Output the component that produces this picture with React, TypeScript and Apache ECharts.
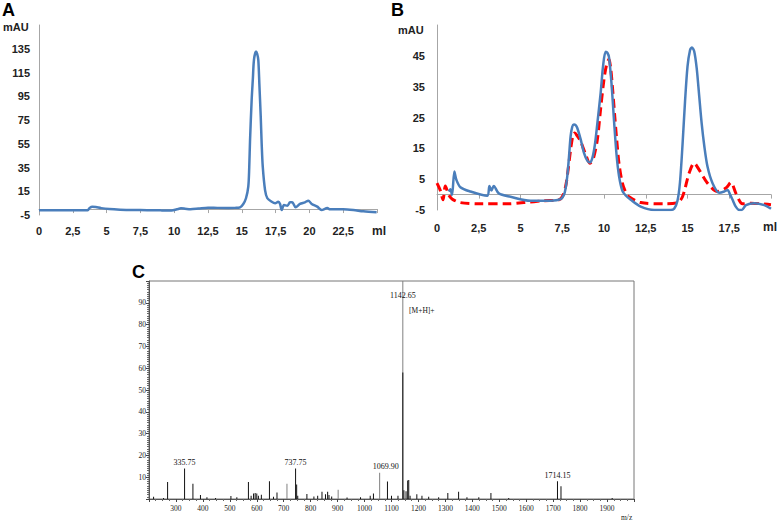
import React, { useEffect, useRef } from "react";
import * as echarts from "echarts";

// Panel A: chromatogram (ml vs mAU)
const aMl = [0, 1, 2, 3, 3.6, 3.75, 3.95, 4.2, 4.6, 5.2, 6, 7, 8, 9, 9.8, 10.2, 10.5, 10.8, 11.2, 11.8, 12.5, 13.2, 14, 14.5, 14.87, 15.11, 15.31, 15.48, 15.55, 15.61, 15.73, 15.82, 15.9, 16.05, 16.13, 16.22, 16.3, 16.4, 16.47, 16.55, 16.72, 16.89, 17.21, 17.46, 17.7, 17.83, 17.95, 18.12, 18.37, 18.57, 18.73, 18.98, 19.3, 19.67, 19.92, 20.17, 20.58, 20.9, 21.33, 21.52, 22.5, 23.25, 23.99, 24.97];
const aMAU = [-1, -1, -1, -1.1, -1, 1, 2, 1.8, 0.8, 0, -0.5, -0.8, -0.9, -1.1, -1.2, -0.2, 0.6, 0.3, -0.2, 0.4, 1.2, 1.0, 0.9, 1.0, 1.5, 4.3, 9.1, 18.9, 35, 58.2, 92, 110, 125.7, 132.7, 131, 125.7, 105, 77.9, 55, 35.7, 16, 9.1, 6.2, 4.9, 6.2, 4.3, -0.8, 3.4, 2.8, 5.7, 5.7, 1.5, 4.3, 5.7, 7.1, 4.3, 2.0, -0.8, 0.9, -0.2, -0.2, -0.8, -1.9, -2.7];

// Panel B: blue solid trace
const bBlueMl = [0.7, 0.8, 0.9, 1.04, 1.16, 1.4, 2.0, 3.0, 3.14, 3.26, 3.4, 3.7, 4.4, 5.6, 6.8, 7.4, 7.6, 7.7, 7.8, 7.9, 8.0, 8.1, 8.2, 8.3, 8.4, 8.6, 8.8, 9.0, 9.15, 9.3, 9.45, 9.6, 9.8, 9.95, 10.1, 10.2, 10.3, 10.45, 10.6, 10.75, 10.9, 11.1, 11.3, 11.6, 12.2, 13.0, 14.0, 14.2, 14.4, 14.55, 14.7, 14.85, 15.0, 15.15, 15.26, 15.4, 15.55, 15.7, 15.85, 16.0, 16.2, 16.5, 16.9, 17.2, 17.4, 17.55, 17.7, 17.9, 18.1, 18.25, 18.5, 19.0, 19.6, 20.0];
const bBlueMAU = [1.0, 1.7, -0.1, 7.5, 4.8, 2.4, 1.0, -0.4, 2.8, 1.3, 2.8, 0.4, -0.7, -2.0, -2.0, -1.5, -0.1, 2, 5.9, 12, 18.9, 22, 22.7, 22.5, 21.6, 18, 13.5, 11, 10.4, 11.8, 16, 23, 33, 42, 46.3, 46, 44.5, 36, 24, 13, 6, 1.2, -0.3, -1.7, -3.9, -5, -5, -4.6, -2, 4, 16, 30, 41.5, 46.8, 47.7, 46.5, 41, 32, 23, 16, 9, 3.7, 0.6, 1.0, 1.5, 0, -1.7, -4, -5, -5, -3.4, -2.8, -3.4, -4.6];

// Panel B: red dashed trace
const bRedMl = [0, 0.2, 0.36, 0.5, 0.7, 0.9, 1.4, 2.6, 4.2, 5.2, 6.4, 7.3, 7.5, 7.7, 7.85, 8.0, 8.15, 8.25, 8.4, 8.6, 8.9, 9.15, 9.35, 9.6, 9.8, 10.0, 10.15, 10.3, 10.4, 10.5, 10.65, 10.76, 10.9, 11.1, 11.3, 11.5, 12.2, 13.6, 14.4, 14.7, 15.1, 15.4, 15.7, 16.2, 16.8, 17.3, 17.6, 17.9, 18.3, 18.8, 20.0];
const bRedMAU = [3.7, 1.3, -1.7, 2.8, -0.1, -1.4, -2.6, -3.0, -3.0, -2.6, -2.0, -1.7, -0.7, 2.6, 8, 14.6, 19.5, 20, 19, 17.3, 13, 10.2, 11.5, 17.8, 28, 37.4, 42, 43.9, 41, 35.2, 25, 17.8, 10, 3.7, 0.8, -0.7, -2.6, -3.0, -2.6, -0.7, 7.0, 10.2, 8.0, 3.7, 1.0, 2.1, 3.9, 0.4, -3.0, -2.8, -3.3];

// Panel C: mass spectrum sticks
const cMz = [217, 254, 269, 332, 363, 391, 415, 447, 504, 526, 569, 579, 588, 594, 600, 606, 617, 647, 662, 675, 712, 744, 748, 752, 786, 812, 826, 842, 855, 863, 868, 878, 902, 935, 985, 1021, 1033, 1056, 1085, 1100, 1124, 1142, 1142, 1146, 1154, 1160, 1164, 1169, 1194, 1213, 1238, 1275, 1309, 1349, 1380, 1424, 1469, 1535, 1716, 1729, 1919];
const cIntensity = [1, 0.5, 7.8, 14, 7, 1.8, 0.8, 0.5, 1.4, 0.8, 7.8, 1.5, 2.5, 2.7, 2.5, 1.5, 2, 8.1, 1, 3, 7, 14, 6.7, 1.5, 2.3, 1.2, 1.5, 3.3, 2.2, 3.3, 1.8, 1.2, 4.3, 0.7, 0.8, 1.5, 2.5, 12, 8, 1.5, 1.5, 100, 58, 4, 3.5, 8.5, 8.7, 1.5, 2.2, 1.5, 1, 0.8, 2.8, 3.3, 0.8, 0.8, 2.8, 0.5, 8.1, 5.8, 0.5];
const cGreyPeaks = [712, 902, 1056];
const cLabelMz = [332, 744, 1056, 1716];
const cLabelText = ["335.75", "737.75", "1069.90", "1714.15"];
const cMainLabel = "1142.65";
const cMainNote = "[M+H]+";

const aXTicks = { min: 0, max: 25, interval: 2.5 };
const aYTicks = { min: -5, max: 155, interval: 20 };
const bXTicks = { min: 0, max: 20, interval: 2.5 };
const bYTicks = { min: -5, max: 55, interval: 10 };

const SANS = "Liberation Sans, Arial, sans-serif";
const SERIF = "Liberation Serif, Times New Roman, serif";

const commaNum = (v: number) => String(v).replace(".", ",");

export default function App() {
  const ref = useRef<HTMLDivElement>(null);
  useEffect(() => {
    if (!ref.current) return;
    const chart = echarts.init(ref.current, null, { renderer: "svg" });

    const chromAxisLine = { lineStyle: { color: "#a6a6a6", width: 1 } };
    const chromLabel = { fontFamily: SANS, fontWeight: "bold" as const, fontSize: 11, color: "#222" };

    const cData: any[] = cMz.map((mz, i) => {
      const h = cIntensity[i];
      const isMainTop = mz === 1142 && h === 100;
      const grey = cGreyPeaks.includes(mz) || isMainTop;
      const item: any = {
        value: [mz, h],
        itemStyle: { color: grey ? "#808080" : "#111" },
      };
      const li = cLabelMz.indexOf(mz);
      if (li >= 0) {
        item.label = {
          show: true,
          position: "top",
          distance: 2,
          offset: mz === 1056 ? [6, 0] : [0, 0],
          formatter: cLabelText[li],
          fontFamily: SERIF,
          fontSize: 8,
          color: "#111",
        };
      }
      if (isMainTop) {
        item.label = {
          show: true,
          position: "insideTop",
          offset: [0, 5],
          formatter: cMainLabel,
          fontFamily: SERIF,
          fontSize: 8,
          color: "#111",
        };
      }
      return item;
    });

    chart.setOption({
      animation: false,
      backgroundColor: "#fff",
      grid: [
        { left: 39, top: 25, width: 338, height: 190 },
        { left: 437, top: 25, width: 334, height: 185 },
        { left: 149, top: 281, width: 485, height: 218, show: true, borderColor: "#777", borderWidth: 1 },
      ],
      xAxis: [
        {
          gridIndex: 0, type: "value", ...aXTicks,
          axisLine: chromAxisLine,
          axisTick: { show: true, length: 4, lineStyle: { color: "#a6a6a6" } },
          splitLine: { show: false },
          axisLabel: { ...chromLabel, margin: 10, formatter: (v: number) => (v === 25 ? "" : commaNum(v)) },
        },
        {
          gridIndex: 1, type: "value", ...bXTicks,
          axisLine: chromAxisLine,
          axisTick: { show: true, length: 4, lineStyle: { color: "#a6a6a6" } },
          splitLine: { show: false },
          axisLabel: { ...chromLabel, margin: 12, formatter: (v: number) => (v === 20 ? "" : commaNum(v)) },
        },
        {
          gridIndex: 2, type: "value", min: 200, max: 2000, interval: 100,
          axisLine: { lineStyle: { color: "#555" } },
          axisTick: { show: true, length: 3, lineStyle: { color: "#444" } },
          minorTick: { show: true, splitNumber: 4, length: 2, lineStyle: { color: "#666" } },
          splitLine: { show: false },
          axisLabel: {
            fontFamily: SERIF, fontSize: 7.5, color: "#222", margin: 5,
            formatter: (v: number) => (v === 200 || v === 2000 ? "" : String(v)),
          },
        },
      ],
      yAxis: [
        {
          gridIndex: 0, type: "value", ...aYTicks,
          axisLine: { show: true, ...chromAxisLine },
          axisTick: { show: false },
          splitLine: { show: false },
          axisLabel: { ...chromLabel, margin: 9, formatter: (v: number) => (v === 155 ? "" : String(v)) },
        },
        {
          gridIndex: 1, type: "value", ...bYTicks,
          axisLine: { show: true, ...chromAxisLine },
          axisTick: { show: false },
          splitLine: { show: false },
          axisLabel: { ...chromLabel, margin: 12, formatter: (v: number) => (v === 55 ? "" : String(v)) },
        },
        {
          gridIndex: 2, type: "value", min: 0, max: 100, interval: 10,
          axisLine: { show: true, lineStyle: { color: "#555" } },
          axisTick: { show: true, length: 3, lineStyle: { color: "#444" } },
          minorTick: { show: true, splitNumber: 10, length: 2, lineStyle: { color: "#666" } },
          splitLine: { show: false },
          axisLabel: {
            fontFamily: SERIF, fontSize: 7.5, color: "#222", margin: 3,
            formatter: (v: number) => (v === 0 || v === 100 ? "" : String(v)),
          },
        },
      ],
      series: [
        {
          type: "line", xAxisIndex: 0, yAxisIndex: 0,
          data: aMl.map((x, i) => [x, aMAU[i]]),
          smooth: 0.3, showSymbol: false,
          lineStyle: { color: "#4a7ebb", width: 2.5 },
        },
        {
          type: "line", xAxisIndex: 1, yAxisIndex: 1,
          data: bRedMl.map((x, i) => [x, bRedMAU[i]]),
          smooth: 0.3, showSymbol: false,
          lineStyle: { color: "#ff0000", width: 3, type: [9, 5] },
        },
        {
          type: "line", xAxisIndex: 1, yAxisIndex: 1,
          data: bBlueMl.map((x, i) => [x, bBlueMAU[i]]),
          smooth: 0.3, showSymbol: false,
          lineStyle: { color: "#4a7ebb", width: 2.5 },
        },
        {
          type: "bar", xAxisIndex: 2, yAxisIndex: 2,
          barWidth: 1,
          data: cData,
        },
      ],
      graphic: [
        { type: "text", left: 2, top: 1, style: { text: "A", font: `bold 18px ${SANS}`, fill: "#000" } },
        { type: "text", left: 391, top: 1, style: { text: "B", font: `bold 18px ${SANS}`, fill: "#000" } },
        { type: "text", left: 132, top: 263, style: { text: "C", font: `bold 18px ${SANS}`, fill: "#000" } },
        { type: "text", left: 3, top: 21, style: { text: "mAU", font: `bold 11px ${SANS}`, fill: "#222" } },
        { type: "text", left: 398, top: 24, style: { text: "mAU", font: `bold 11px ${SANS}`, fill: "#222" } },
        { type: "text", left: 372, top: 225, style: { text: "ml", font: `bold 12px ${SANS}`, fill: "#222" } },
        { type: "text", left: 763, top: 221, style: { text: "ml", font: `bold 12px ${SANS}`, fill: "#222" } },
        { type: "text", left: 621, top: 513, style: { text: "m/z", font: `7.5px ${SERIF}`, fill: "#222" } },
        { type: "text", left: 409, top: 306, style: { text: cMainNote, font: `7.5px ${SERIF}`, fill: "#111" } },
      ],
    });
    return () => chart.dispose();
  }, []);
  return (
    <div
      ref={ref}
      style={{ position: "absolute", left: 0, top: 0, width: 778, height: 522, background: "#fff" }}
    />
  );
}
